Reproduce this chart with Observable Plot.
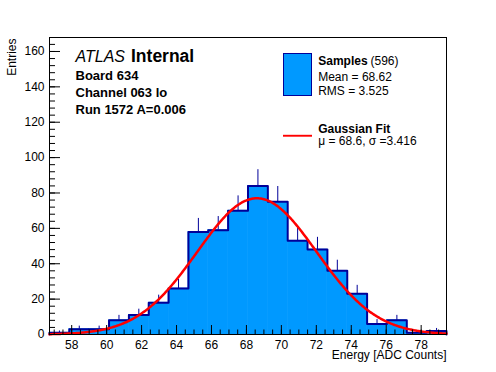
<!DOCTYPE html>
<html><head><meta charset="utf-8">
<script src="https://cdn.jsdelivr.net/npm/d3@7"></script>
<script src="https://cdn.jsdelivr.net/npm/@observablehq/plot@0.6"></script>
<style>body{margin:0;background:#fff} svg{display:block}</style>
</head><body><div id="chart"></div>
<script>
// ---- data ----
const counts = [1, 3, 3, 8, 11, 18, 26, 58, 59, 70, 84, 75, 53, 48, 36, 23, 6, 8, 1, 2];
const xMin = 56.73, xMax = 79.45;          // histogram range (20 bins)
const yMax = 167.9;
const xTickLabels = [58, 60, 62, 64, 66, 68, 70, 72, 74, 76, 78];
const yTickLabels = [0, 20, 40, 60, 80, 100, 120, 140, 160];
const fitMu = 68.6, fitSigma = 3.416, fitAmp = 77;
const sampleCount = 596, sampleMean = "68.62", sampleRMS = "3.525";
const infoLines = ["Board 634", "Channel 063 lo", "Run 1572 A=0.006"];

// ---- derived tables ----
const binW = (xMax - xMin) / counts.length;
const bins = counts.map((n, i) => ({x1: xMin + i * binW, x2: xMin + (i + 1) * binW, n, xc: xMin + (i + 0.5) * binW}));
const outline = [{x: xMin, y: 0}];
bins.forEach(b => { outline.push({x: b.x1, y: b.n}); outline.push({x: b.x2, y: b.n}); });
outline.push({x: xMax, y: 0});
const fit = d3.range(0, 401).map(i => {
  const x = xMin + i * (xMax - xMin) / 400;
  return {x, y: fitAmp * Math.exp(-((x - fitMu) ** 2) / (2 * fitSigma ** 2))};
});
const xMinor = d3.range(57, 79.5, 0.5);
const yMinor = d3.range(0, 165, 4);

const FILL = "#0099ff", DARK = "#000099", FONT = "'Liberation Sans', Arial, Helvetica, sans-serif";
const W = 496, H = 372, ML = 49, MR = 50, MT = 37, MB = 38;
const FW = W - ML - MR, FH = H - MT - MB;

// text placed by its baseline (px from the SVG top); middle anchor = baseline - 0.32em
const txt = (s, x, base, fs, o = {}) => Plot.text([s], {
  text: d => d, frameAnchor: "top-left", textAnchor: "start", lineAnchor: "middle",
  dx: x - ML, dy: base - 0.32 * fs - MT, fontSize: fs, fill: "black", ...o});

const chart = Plot.plot({
  width: W, height: H,
  marginLeft: ML, marginRight: MR, marginTop: MT, marginBottom: MB,
  style: {fontFamily: FONT, fontSize: "12px", background: "white", color: "black"},
  x: {domain: [xMin, xMax]},
  y: {domain: [0, yMax]},
  marks: [
    Plot.rectY(bins, {x1: "x1", x2: "x2", y: "n", fill: FILL, stroke: FILL, strokeWidth: 0.6}),
    Plot.ruleX(bins, {x: "xc", y1: "n", y2: d => d.n + Math.sqrt(d.n), stroke: DARK, strokeWidth: 1}),
    Plot.line(outline, {x: "x", y: "y", stroke: DARK, strokeWidth: 2}),
    Plot.line(fit, {x: "x", y: "y", stroke: "#ff0000", strokeWidth: 2.5}),
    Plot.frame({stroke: "black", strokeWidth: 1}),
    Plot.tickX(xMinor, {x: d => d, insetTop: FH - 4.5, stroke: "black"}),
    Plot.tickX(xTickLabels, {x: d => d, insetTop: FH - 9, stroke: "black"}),
    Plot.tickY(yMinor, {y: d => d, insetRight: FW - 6, stroke: "black"}),
    Plot.tickY(yTickLabels, {y: d => d, insetRight: FW - 11, stroke: "black"}),
    Plot.axisX(xTickLabels, {tickSize: 0, tickPadding: 6, fontSize: 12, label: null}),
    Plot.axisY(yTickLabels, {tickSize: 0, tickPadding: 5, fontSize: 12, label: null}),
    txt("Energy [ADC Counts]", W - MR, 358, 12, {textAnchor: "end"}),
    Plot.text(["Entries"], {text: d => d, frameAnchor: "top-left", textAnchor: "end", lineAnchor: "middle",
      rotate: -90, dx: 12 - ML, dy: 38 - MT, fontSize: 12}),
    // ATLAS label and info
    txt("ATLAS", 75, 61, 16, {fontStyle: "italic"}),
    txt("Internal", 130.5, 61, 17.5, {fontWeight: "bold"}),
    ...infoLines.map((s, i) => txt(s, 75, 79 + 17 * i, 13, {fontWeight: "bold"})),
    // legend
    Plot.frame({fill: FILL, stroke: DARK, strokeWidth: 1, insetLeft: 234, insetRight: 135, insetTop: 16, insetBottom: 239}),
    Plot.frame({fill: "#ff0000", stroke: null, insetLeft: 233.5, insetRight: 134.5, insetTop: 97.3, insetBottom: 197.8}),
    txt("Samples", 317.7, 64.7, 12, {fontWeight: "bold"}),
    txt(`(${sampleCount})`, 370, 64.7, 12),
    txt(`Mean = ${sampleMean}`, 317.7, 80.6, 12),
    txt(`RMS = ${sampleRMS}`, 317.7, 94, 12),
    txt("Gaussian Fit", 317.7, 132.3, 12, {fontWeight: "bold"}),
    txt(`\u03bc = ${fitMu}, \u03c3 =${fitSigma}`, 317.7, 144.5, 12)
  ]
});
document.getElementById("chart").append(chart);
</script>
</body></html>
